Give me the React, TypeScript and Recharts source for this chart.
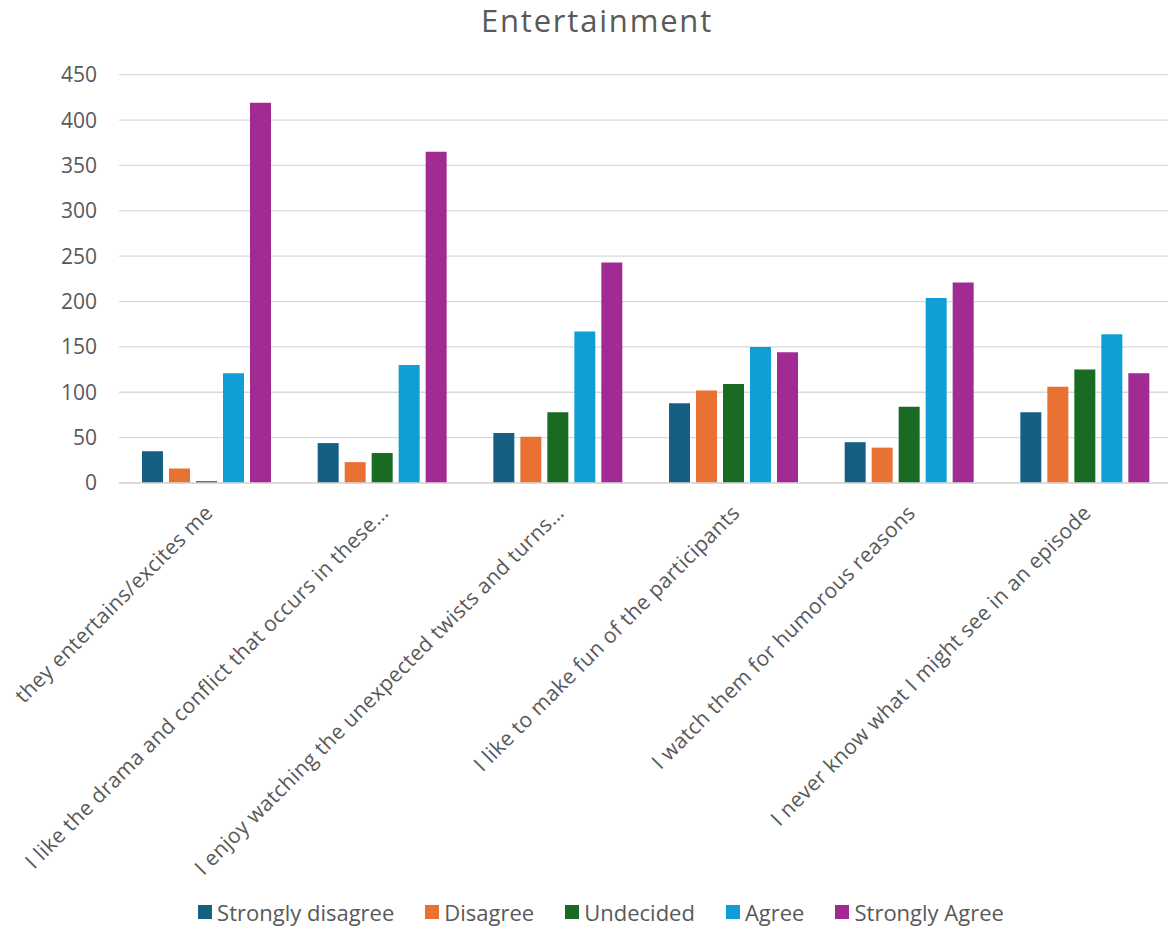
import React from "react";
import { BarChart, Bar, XAxis, YAxis, CartesianGrid, Legend } from "recharts";

const categories = [
  "they entertains/excites me",
  "I like the drama and conflict that occurs in these…",
  "I enjoy watching the unexpected twists and turns…",
  "I like to make fun of the participants",
  "I watch them for humorous reasons",
  "I never know what I might see in an episode",
];
const stronglyDisagree = [35, 44, 55, 88, 45, 78];
const disagree = [16, 23, 51, 102, 39, 106];
const undecided = [2, 33, 78, 109, 84, 125];
const agree = [121, 130, 167, 150, 204, 164];
const stronglyAgree = [419, 365, 243, 144, 221, 121];
const yTicks = [0, 50, 100, 150, 200, 250, 300, 350, 400, 450];

const seriesDefs = [
  { key: "sd", name: "Strongly disagree", color: "#156082", values: stronglyDisagree },
  { key: "d", name: "Disagree", color: "#E97132", values: disagree },
  { key: "u", name: "Undecided", color: "#196B24", values: undecided },
  { key: "a", name: "Agree", color: "#0F9ED5", values: agree },
  { key: "sa", name: "Strongly Agree", color: "#A02B93", values: stronglyAgree },
];

const data = categories.map((c, i) => {
  const row: Record<string, string | number> = { category: c };
  seriesDefs.forEach((s) => (row[s.key] = s.values[i]));
  return row;
});

const FONT = "'Open Sans', sans-serif";
const TEXT = "#595959";

const XTick = (props: any) => {
  const { x, y, payload } = props;
  return (
    <g transform={`translate(${x + 2},${y + 26})`}>
      <text
        transform="rotate(-45)"
        textAnchor="end"
        x={0}
        y={0}
        dy="0.35em"
        fill={TEXT}
        fontSize={21}
        letterSpacing={0.35}
        fontFamily={FONT}
      >
        {payload.value}
      </text>
    </g>
  );
};

const LegendContent = () => (
  <div
    style={{
      display: "flex",
      justifyContent: "center",
      alignItems: "center",
      gap: 31,
      fontFamily: FONT,
      fontSize: 22,
      color: TEXT,
      width: "100%",
      paddingRight: 30,
      boxSizing: "border-box",
    }}
  >
    {seriesDefs.map((s) => (
      <div key={s.key} style={{ display: "flex", alignItems: "center" }}>
        <span style={{ width: 14, height: 14, background: s.color, display: "inline-block", marginRight: 5 }} />
        <span>{s.name}</span>
      </div>
    ))}
  </div>
);

export default function App() {
  return (
    <div style={{ position: "relative", width: 1168, height: 919, background: "#fff" }}>
      <div
        style={{
          position: "absolute",
          top: -9,
          left: 0,
          width: 1168,
          textAlign: "center",
          fontFamily: FONT,
          fontSize: 31,
          letterSpacing: 1.8,
          color: TEXT,
          paddingLeft: 10,
          boxSizing: "border-box",
        }}
      >
        Entertainment
      </div>
      <BarChart
        width={1168}
        height={919}
        data={data}
        margin={{ top: 66.7, right: 3, left: 51, bottom: 0 }}
        barSize={21}
        barGap={6}
      >
        <CartesianGrid vertical={false} stroke="#d9d9d9" strokeWidth={1.3} />
        <XAxis
          dataKey="category"
          interval={0}
          height={414}
          tickLine={false}
          tickSize={0}
          tickMargin={0}
          axisLine={{ stroke: "#d9d9d9", strokeWidth: 1.3 }}
          tick={<XTick />}
        />
        <YAxis
          domain={[0, 450]}
          ticks={yTicks}
          width={60}
          axisLine={false}
          tickLine={false}
          tickSize={0}
          tickMargin={22}
          tick={{ fill: TEXT, fontSize: 21, fontFamily: FONT }}
        />
        <Legend verticalAlign="bottom" height={30} content={<LegendContent />} />
        {seriesDefs.map((s) => (
          <Bar key={s.key} dataKey={s.key} name={s.name} fill={s.color} isAnimationActive={false} />
        ))}
      </BarChart>
    </div>
  );
}
